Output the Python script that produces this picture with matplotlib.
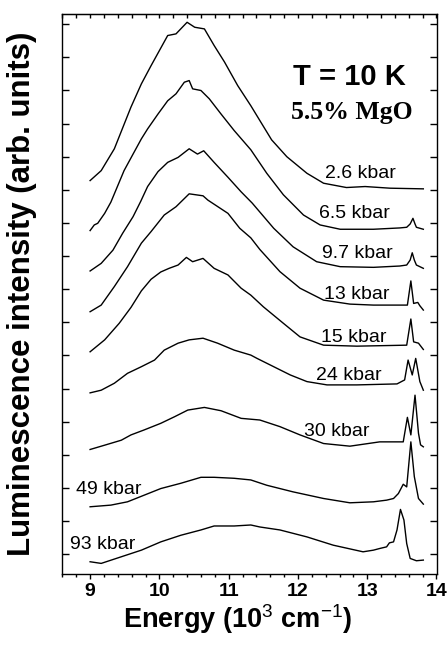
import matplotlib
matplotlib.use('Agg')
import matplotlib.pyplot as plt
from matplotlib.ticker import MultipleLocator

plt.rcParams['font.family'] = ['Liberation Sans', 'DejaVu Sans']
plt.rcParams['mathtext.fontset'] = 'custom'
plt.rcParams['mathtext.rm'] = 'Liberation Sans'
plt.rcParams['mathtext.bf'] = 'Liberation Sans:bold'

# ---- data (energy in 10^3 cm^-1, intensity in arb. units incl. stacking offset) ----
E_2p6 = [9.00, 9.16, 9.35, 9.59, 9.74, 9.88, 10.12, 10.24, 10.40, 10.51, 10.65, 10.79, 10.94,
         11.13, 11.32, 11.62, 11.84, 12.13, 12.37, 12.70, 12.97, 13.33, 13.81]
I_2p6 = [11.28, 11.58, 12.24, 13.50, 14.20, 14.75, 15.66, 15.71, 16.06, 15.91, 15.86, 15.36, 14.86,
         14.15, 13.54, 12.51, 12.00, 11.50, 11.20, 11.07, 11.10, 11.05, 11.03]

E_6p5 = [9.00, 9.06, 9.11, 9.21, 9.30, 9.49, 9.62, 9.74, 9.83, 9.98, 10.12, 10.24, 10.36, 10.43,
         10.48, 10.60, 10.72, 10.89, 11.08, 11.32, 11.55, 11.79, 12.08, 12.32, 12.61, 13.09, 13.47,
         13.57, 13.62, 13.66, 13.69, 13.71, 13.81]
I_6p5 = [9.77, 9.94, 9.99, 10.29, 10.63, 11.58, 12.08, 12.54, 12.84, 13.29, 13.69, 13.90, 14.25, 14.30,
         14.05, 14.00, 13.75, 13.29, 12.79, 12.21, 11.50, 10.85, 10.24, 9.94, 9.81, 9.81, 9.85,
         9.87, 9.97, 10.14, 9.97, 9.87, 9.81]

E_9p7 = [9.00, 9.16, 9.33, 9.47, 9.62, 9.73, 9.83, 9.98, 10.12, 10.27, 10.43, 10.55, 10.64, 10.79,
         10.99, 11.18, 11.34, 11.65, 11.93, 12.27, 12.61, 13.09, 13.47, 13.57, 13.62, 13.65, 13.68,
         13.71, 13.81]
I_9p7 = [8.55, 8.78, 9.18, 9.69, 10.19, 10.65, 11.10, 11.55, 11.83, 11.98, 12.24, 12.08, 12.18, 11.83,
         11.38, 10.94, 10.60, 9.84, 9.28, 8.83, 8.68, 8.66, 8.70, 8.73, 8.88, 9.10, 8.88,
         8.73, 8.63]

E_13 = [9.00, 9.16, 9.35, 9.54, 9.74, 9.88, 10.07, 10.24, 10.43, 10.63, 10.70, 10.99, 11.16, 11.32,
        11.45, 11.74, 12.03, 12.37, 12.75, 13.09, 13.58, 13.63, 13.67, 13.73, 13.76, 13.81]
I_13 = [7.32, 7.52, 8.08, 8.68, 9.39, 9.74, 10.24, 10.49, 10.88, 10.82, 10.69, 10.29, 9.84, 9.55,
        9.20, 8.53, 8.03, 7.67, 7.55, 7.52, 7.52, 8.25, 7.57, 7.60, 7.50, 7.37]

E_15 = [9.00, 9.21, 9.42, 9.59, 9.74, 9.88, 10.02, 10.14, 10.27, 10.39, 10.48, 10.63, 10.79, 10.99,
        11.18, 11.32, 11.50, 11.79, 12.03, 12.37, 12.85, 13.57, 13.63, 13.67, 13.74, 13.81]
I_15 = [6.11, 6.47, 6.97, 7.45, 7.95, 8.30, 8.52, 8.63, 8.73, 8.96, 8.83, 8.93, 8.63, 8.43,
        8.03, 7.82, 7.47, 6.97, 6.56, 6.31, 6.28, 6.31, 7.10, 6.41, 6.37, 6.18]

E_24 = [9.00, 9.16, 9.35, 9.54, 9.74, 9.93, 10.07, 10.27, 10.43, 10.63, 10.84, 11.08, 11.32, 11.41,
        11.65, 11.89, 12.13, 12.42, 12.85, 13.43, 13.54, 13.59, 13.65, 13.70, 13.76, 13.81]
I_24 = [4.87, 4.95, 5.16, 5.46, 5.66, 5.86, 6.16, 6.37, 6.47, 6.52, 6.37, 6.16, 6.01, 5.91,
        5.66, 5.41, 5.21, 5.11, 5.11, 5.14, 5.26, 5.86, 5.41, 5.91, 5.21, 4.95]

E_30 = [9.00, 9.21, 9.45, 9.59, 9.78, 10.02, 10.22, 10.41, 10.65, 10.89, 11.18, 11.45, 11.74, 12.03,
        12.37, 12.75, 13.18, 13.52, 13.58, 13.63, 13.69, 13.74, 13.77, 13.81]
I_30 = [3.16, 3.29, 3.44, 3.60, 3.75, 3.95, 4.15, 4.35, 4.43, 4.33, 4.10, 4.05, 3.85, 3.60,
        3.34, 3.26, 3.39, 3.39, 4.13, 3.60, 4.80, 3.65, 3.30, 3.24]

E_49 = [9.00, 9.30, 9.54, 9.78, 10.02, 10.31, 10.60, 10.79, 11.08, 11.32, 11.55, 11.93, 12.37, 12.75,
        13.09, 13.28, 13.38, 13.45, 13.52, 13.57, 13.63, 13.68, 13.74, 13.81]
I_49 = [1.43, 1.48, 1.58, 1.78, 1.98, 2.14, 2.32, 2.32, 2.29, 2.24, 2.08, 1.88, 1.68, 1.55,
        1.58, 1.63, 1.68, 1.83, 2.11, 2.03, 3.39, 2.34, 1.68, 1.51]

E_93 = [9.00, 9.16, 9.45, 9.74, 10.02, 10.31, 10.60, 10.79, 11.08, 11.32, 11.45, 11.74, 12.13, 12.51,
        12.94, 13.09, 13.18, 13.28, 13.32, 13.38, 13.43, 13.48, 13.53, 13.57, 13.62, 13.71, 13.81]
I_93 = [-0.23, -0.28, -0.08, 0.12, 0.37, 0.57, 0.73, 0.85, 0.85, 0.88, 0.82, 0.73, 0.52, 0.27,
        0.07, 0.12, 0.17, 0.22, 0.34, 0.37, 0.73, 1.35, 1.03, 0.32, -0.13, -0.20, -0.18]

pressure_labels = ['2.6 kbar', '6.5 kbar', '9.7 kbar', '13 kbar', '15 kbar',
                   '24 kbar', '30 kbar', '49 kbar', '93 kbar']
energies = [E_2p6, E_6p5, E_9p7, E_13, E_15, E_24, E_30, E_49, E_93]
intensities = [I_2p6, I_6p5, I_9p7, I_13, I_15, I_24, I_30, I_49, I_93]

# label anchor positions (data coords, baseline-centred)
label_x = [12.90, 12.81, 12.86, 12.85, 12.80, 12.73, 12.56, 9.27, 9.18]
label_y = [11.35, 10.14, 8.93, 7.69, 6.41, 5.26, 3.56, 1.81, 0.16]

# ---- figure ----
fig = plt.figure(figsize=(4.48, 6.46), dpi=100)
ax = fig.add_axes([61.7 / 448, 1 - 574 / 646, (436.7 - 61.7) / 448, (574 - 14) / 646])

for E, I in zip(energies, intensities):
    ax.plot(E, I, color='black', lw=1.0)

for txt, x, y in zip(pressure_labels, label_x, label_y):
    ax.text(x, y, txt, ha='center', va='baseline', fontsize=14, color='black')

ax.text(12.75, 14.17, 'T = 10 K', ha='center', va='baseline', fontsize=21, fontweight='bold')
ax.text(12.78, 13.13, '5.5% MgO', ha='center', va='baseline', fontsize=18.5, fontweight='bold',
        family=['Liberation Serif', 'DejaVu Serif'])

ax.set_xlim(8.59, 14.003)
ax.set_ylim(-0.6, 16.31)

ax.xaxis.set_major_locator(MultipleLocator(1))
ax.xaxis.set_minor_locator(MultipleLocator(0.2))
ax.yaxis.set_major_locator(MultipleLocator(1))
ax.tick_params(axis='x', which='major', direction='out', length=3.5, width=1.0, top=False,
               labelsize=14, pad=3)
ax.tick_params(axis='x', which='minor', direction='out', length=2.5, width=1.0, top=False)
ax.tick_params(axis='y', which='major', direction='in', length=5, width=1.0,
               left=True, right=True, labelleft=False)
for lbl in ax.get_xticklabels():
    lbl.set_fontweight('bold')

sec = ax.secondary_xaxis('top')
sec.xaxis.set_major_locator(MultipleLocator(1))
sec.xaxis.set_minor_locator(MultipleLocator(0.2))
sec.tick_params(axis='x', which='both', direction='in', length=3, width=1.0, labeltop=False)

for s in ax.spines.values():
    s.set_linewidth(1.0)

fig.text(237.5 / 448, 1 - 628 / 646, r'Energy (10$^{3}$ cm$^{-1}$)', ha='center', va='baseline',
         fontsize=19.5, fontweight='bold')
fig.text(22 / 448, 1 - 294 / 646, 'Luminescence intensity (arb. units)', rotation=90,
         ha='center', va='center', fontsize=22.5, fontweight='bold')

fig.savefig('out.png', dpi=100)
